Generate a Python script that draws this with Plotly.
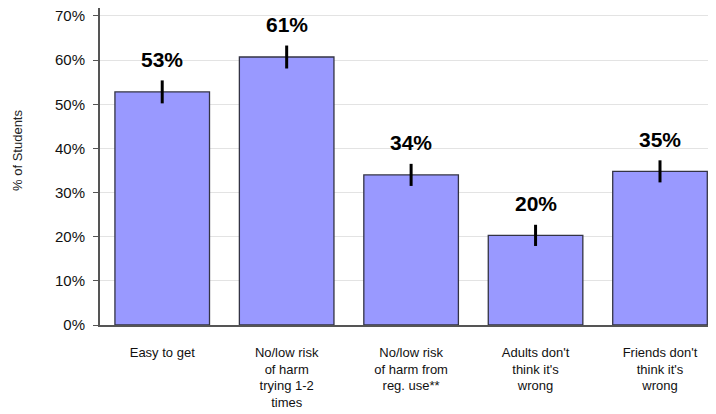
import plotly.graph_objects as go

categories = ["Easy to get", "No/low risk<br>of harm<br>trying 1-2<br>times", "No/low risk<br>of harm from<br>reg. use**", "Adults don't<br>think it's<br>wrong", "Friends don't<br>think it's<br>wrong"]
values = [52.8, 60.7, 34.0, 20.3, 34.8]
errors = [2.6, 2.6, 2.5, 2.4, 2.5]
labels = ["53%", "61%", "34%", "20%", "35%"]
yticks = [0, 10, 20, 30, 40, 50, 60, 70]

FONT = "Arial, Liberation Sans, sans-serif"

fig = go.Figure()
fig.add_trace(go.Bar(
    x=list(range(len(categories))), y=values,
    marker=dict(color="#9999FF", line=dict(color="#333344", width=1.3)),
    error_y=dict(type="data", array=errors, visible=True, color="black", thickness=3, width=0),
    width=0.76,
))
for i, (v, e, t) in enumerate(zip(values, errors, labels)):
    fig.add_annotation(x=i, y=v + e, text="<b>" + t + "</b>", showarrow=False,
                       yshift=21, font=dict(size=21, color="black", family=FONT))

fig.add_annotation(xref="paper", yref="paper", x=0, y=0.549, xshift=-82, xanchor="center",
                   text="% of Students", textangle=-90, showarrow=False,
                   font=dict(size=13, color="#222222", family=FONT))

fig.update_layout(
    width=708, height=406,
    margin=dict(l=92, r=0, t=0, b=89),
    plot_bgcolor="white", paper_bgcolor="white",
    font=dict(family=FONT, color="black"),
    showlegend=False,
    xaxis=dict(range=[-0.5, 4.45], tickmode="array", tickvals=list(range(len(categories))),
               ticktext=categories, showgrid=False, showline=True, linecolor="#555555", linewidth=2,
               ticks="", tickfont=dict(size=13, color="#111111"), ticklabelstandoff=14,
               zeroline=False, automargin=False),
    yaxis=dict(range=[0, 71.8], tickmode="array", tickvals=yticks,
               ticktext=[f"{t}%" for t in yticks], showgrid=True, gridcolor="#E3E3E3",
               showline=True, linecolor="#555555", linewidth=2, ticks="outside", ticklen=5,
               tickcolor="#555555", tickfont=dict(size=15, color="#111111"), zeroline=False,
               ticklabelstandoff=5, ticklabeloverflow="allow", automargin=False),
)
fig.write_html("out.html")
